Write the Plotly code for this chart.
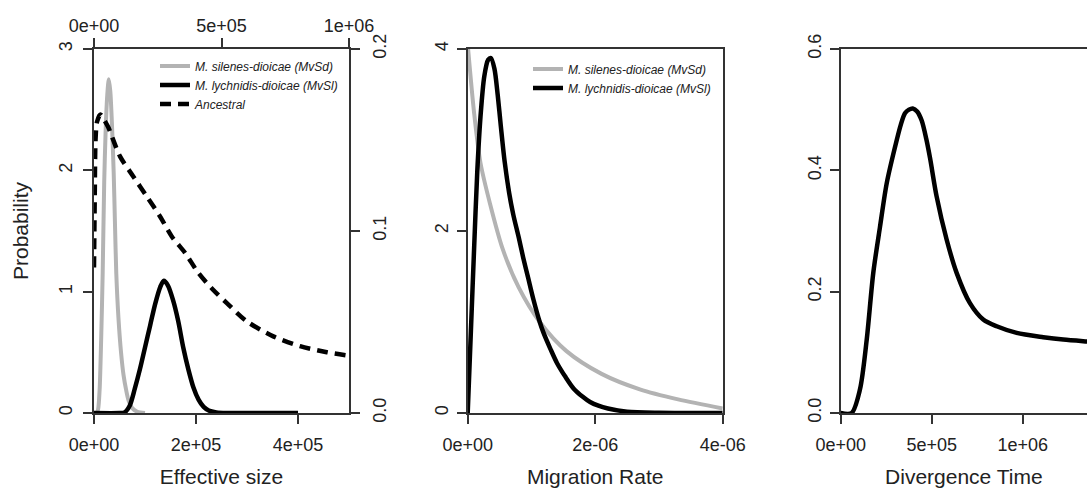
import plotly.graph_objects as go

W, H = 1087, 489

# ---------------- Panel 1: Effective size ----------------
mvsd_size_x = [0, 5e3, 8e3, 11e3, 14e3, 17e3, 20e3, 23e3, 26e3, 29e3, 32e3, 35e3, 38.6e3,
               41e3, 43.7e3, 48e3, 53e3, 58e3, 63e3, 68e3, 75e3, 85e3, 100e3]
mvsd_size_y = [0, 0.0, 0.03, 0.19, 0.6, 1.15, 1.9, 2.35, 2.62, 2.75, 2.65, 2.4, 1.98,
               1.58, 1.15, 0.78, 0.5, 0.31, 0.19, 0.1, 0.04, 0.01, 0.0]

mvsl_size_x = [0, 50e3, 60e3, 70e3, 80e3, 90e3, 100e3, 110e3, 120e3, 130e3, 137e3, 145e3,
               155e3, 165e3, 175e3, 185e3, 195e3, 205e3, 215e3, 225e3, 240e3, 260e3, 300e3, 400e3]
mvsl_size_y = [0, 0, 0.005, 0.06, 0.2, 0.36, 0.54, 0.72, 0.9, 1.04, 1.09, 1.05,
               0.93, 0.76, 0.54, 0.36, 0.21, 0.11, 0.05, 0.02, 0.005, 0, 0, 0]

anc_size_x = [0, 3e3, 6e3, 12e3, 25e3, 40e3, 56e3, 102e3, 154e3, 207e3, 259e3, 305e3, 357e3,
              409e3, 465e3, 520e3, 599e3, 703e3, 808e3, 913e3, 1000e3]
anc_size_y = [0.08, 0.12, 0.15, 0.16, 0.164, 0.161, 0.157, 0.141, 0.130, 0.119, 0.108, 0.097, 0.088,
              0.077, 0.068, 0.0605, 0.0504, 0.0421, 0.0367, 0.0334, 0.0315]

# ---------------- Panel 2: Migration rate ----------------
mvsd_mig_x = [0, 0.1e-6, 0.2e-6, 0.35e-6, 0.55e-6, 0.8e-6, 1.13e-6, 1.55e-6, 2.1e-6, 2.7e-6, 3.3e-6, 4.0e-6]
mvsd_mig_y = [4.05, 3.3, 2.75, 2.3, 1.8, 1.38, 1.0, 0.68, 0.43, 0.26, 0.15, 0.05]

mvsl_mig_x = [0, 0.05e-6, 0.1e-6, 0.15e-6, 0.2e-6, 0.26e-6, 0.32e-6, 0.365e-6, 0.42e-6, 0.47e-6,
              0.52e-6, 0.58e-6, 0.65e-6, 0.715e-6, 0.8e-6, 0.87e-6, 0.95e-6, 1.03e-6, 1.13e-6,
              1.19e-6, 1.3e-6, 1.4e-6, 1.53e-6, 1.66e-6, 1.8e-6, 1.92e-6, 2.05e-6, 2.2e-6,
              2.5e-6, 3.0e-6, 4.0e-6]
mvsl_mig_y = [0, 0.9, 1.8, 2.65, 3.25, 3.7, 3.88, 3.9, 3.78, 3.5,
              3.15, 2.76, 2.42, 2.18, 1.93, 1.71, 1.48, 1.25, 1.0,
              0.88, 0.7, 0.55, 0.4, 0.27, 0.18, 0.12, 0.08, 0.05,
              0.015, 0.003, 0]

# ---------------- Panel 3: Divergence time ----------------
div_x = [0, 60e3, 106e3, 143e3, 179e3, 216e3, 253e3, 308e3, 330e3, 353e3, 375e3, 396e3, 420e3,
         445e3, 470e3, 491e3, 527e3, 582e3, 637e3, 710e3, 783e3, 857e3, 967e3, 1113e3, 1223e3,
         1352e3, 1400e3]
div_y = [0, 0, 0.039, 0.121, 0.231, 0.307, 0.379, 0.45, 0.475, 0.494, 0.5, 0.502, 0.497,
         0.482, 0.452, 0.42, 0.357, 0.286, 0.231, 0.181, 0.154, 0.143, 0.132, 0.125, 0.121,
         0.118, 0.117]

names = ["<i>M. silenes-dioicae (MvSd)</i>", "<i>M. lychnidis-dioicae (MvSl)</i>", "<i>Ancestral</i>"]
GRAY = "#b3b3b3"
BLACK = "#000000"
AX = "#333333"
TXT = "#222222"
FONT = "Liberation Sans, Arial, Helvetica, sans-serif"

def ln(color, width, dash=None):
    d = dict(color=color, width=width, shape="spline", smoothing=0.8)
    if dash:
        d["dash"] = dash
    return d

fig = go.Figure()
fig.add_trace(go.Scatter(x=mvsd_size_x, y=mvsd_size_y, mode="lines", name=names[0],
                         line=ln(GRAY, 4), xaxis="x", yaxis="y", legend="legend"))
fig.add_trace(go.Scatter(x=mvsl_size_x, y=mvsl_size_y, mode="lines", name=names[1],
                         line=ln(BLACK, 4.5), xaxis="x", yaxis="y", legend="legend"))
fig.add_trace(go.Scatter(x=anc_size_x, y=anc_size_y, mode="lines", name=names[2],
                         line=ln(BLACK, 4.5, "11px,7px"), xaxis="x2", yaxis="y2",
                         legend="legend"))
fig.add_trace(go.Scatter(x=mvsd_mig_x, y=mvsd_mig_y, mode="lines", name=names[0],
                         line=ln(GRAY, 4), xaxis="x3", yaxis="y3", legend="legend2"))
fig.add_trace(go.Scatter(x=mvsl_mig_x, y=mvsl_mig_y, mode="lines", name=names[1],
                         line=ln(BLACK, 4.5), xaxis="x3", yaxis="y3", legend="legend2"))
fig.add_trace(go.Scatter(x=div_x, y=div_y, mode="lines", name="Divergence",
                         line=ln(BLACK, 4.5), xaxis="x4", yaxis="y4", showlegend=False))

tickfont = dict(family=FONT, size=18, color=TXT)
titlefont = dict(family=FONT, size=21, color=TXT)

common = dict(showline=True, linecolor=AX, linewidth=1.5, ticks="outside", ticklen=9,
              tickwidth=1.5, tickcolor=AX, showgrid=False, zeroline=False, tickfont=tickfont,
              automargin=False, fixedrange=True)

d1 = [94 / W, 349 / W]
d2 = [467.7 / W, 722.7 / W]
d3 = [840.7 / W, 1.0]

fig.update_layout(
    width=W, height=H, template="none",
    paper_bgcolor="white", plot_bgcolor="white",
    margin=dict(l=0, r=0, t=49, b=76),
    font=dict(family=FONT, color=TXT),
    xaxis=dict(domain=d1, anchor="y", range=[0, 5e5], tickvals=[0, 2e5, 4e5],
               ticktext=["0e+00", "2e+05", "4e+05"], ticklabelstandoff=6,
               title=dict(text="Effective size", font=titlefont, standoff=15), **common),
    xaxis2=dict(overlaying="x", side="top", anchor="y", range=[0, 1e6], tickvals=[0, 5e5, 1e6],
                ticktext=["0e+00", "5e+05", "1e+06"], ticklabelstandoff=-1, **common),
    yaxis=dict(domain=[0, 1], anchor="x", range=[0, 3], tickvals=[0, 1, 2, 3],
               ticktext=["0", "1", "2", "3"], tickangle=-90, ticklabelstandoff=4,
               title=dict(text="Probability", font=titlefont, standoff=22), **common),
    yaxis2=dict(overlaying="y", side="right", anchor="x", range=[0, 0.2], tickvals=[0, 0.1, 0.2],
                ticktext=["0.0", "0.1", "0.2"], tickangle=-90, ticklabelstandoff=5, **common),
    xaxis3=dict(domain=d2, anchor="y3", range=[0, 4e-6], tickvals=[0, 2e-6, 4e-6],
                ticktext=["0e+00", "2e-06", "4e-06"], mirror=True, ticklabelstandoff=6,
                title=dict(text="Migration Rate", font=titlefont, standoff=15), **common),
    yaxis3=dict(domain=[0, 1], anchor="x3", range=[0, 4], tickvals=[0, 2, 4],
                ticktext=["0", "2", "4"], tickangle=-90, mirror=True, ticklabelstandoff=2, **common),
    xaxis4=dict(domain=d3, anchor="y4", range=[0, 1.3533e6], tickvals=[0, 5e5, 1e6],
                ticktext=["0e+00", "5e+05", "1e+06"], mirror=True, ticklabelstandoff=6,
                title=dict(text="Divergence Time", font=titlefont, standoff=15), **common),
    yaxis4=dict(domain=[0, 1], anchor="x4", range=[0, 0.6], tickvals=[0, 0.2, 0.4, 0.6],
                ticktext=["0.0", "0.2", "0.4", "0.6"], tickangle=-90, ticklabelstandoff=2, **common),
    legend=dict(x=155 / W, y=0.985 + 3 / 364, xanchor="left", yanchor="top", bgcolor="rgba(0,0,0,0)",
                font=dict(family=FONT, size=12, color=TXT), tracegroupgap=0, itemwidth=30),
    legend2=dict(x=528 / W, y=0.985, xanchor="left", yanchor="top", bgcolor="rgba(0,0,0,0)",
                 font=dict(family=FONT, size=12, color=TXT), tracegroupgap=0, itemwidth=30),
    showlegend=True,
)

fig.write_html("out.html", config={"displayModeBar": False},
               post_script="document.body.style.margin='0';document.body.style.overflow='hidden';")
